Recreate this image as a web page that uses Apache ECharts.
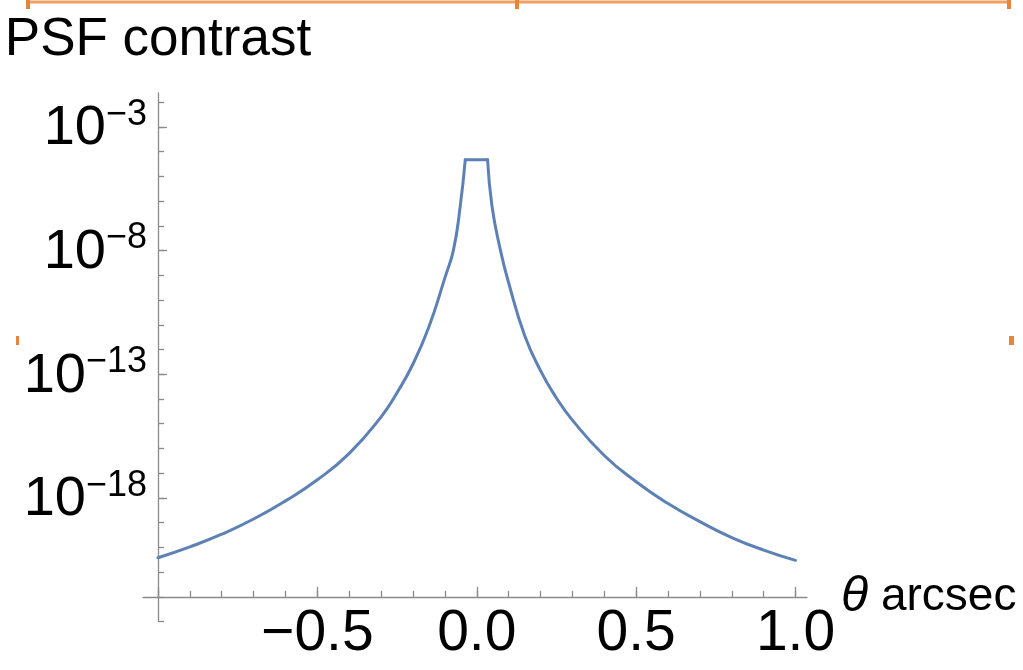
<!DOCTYPE html>
<html>
<head>
<meta charset="utf-8">
<style>
html,body{margin:0;padding:0;background:#fff;}
#chart{width:1023px;height:670px;}
</style>
<script src="https://cdn.jsdelivr.net/npm/echarts@6/dist/echarts.min.js"></script>
</head>
<body>
<div id="chart"></div>
<script>
// Data
const thetaArcsec = [-1.0,-0.9,-0.8,-0.7,-0.6,-0.5,-0.4,-0.3,-0.25,-0.2,-0.15,-0.1,-0.073,-0.052,-0.036,
                     0.034,0.048,0.074,0.1,0.15,0.2,0.25,0.3,0.4,0.5,0.6,0.7,0.8,0.9,1.0];
const psfContrast = [3.8e-21,1.05e-20,3.4e-20,1.4e-19,7.6e-19,5.4e-18,6.3e-17,1.9e-15,1.8e-14,2.6e-13,8.3e-12,7.9e-10,1.07e-8,6.0e-7,4.7e-5,
                     4.7e-5,6.0e-7,1.07e-8,5e-10,3.8e-12,1.4e-13,1.1e-14,1.4e-15,5.2e-17,4.5e-18,5.9e-19,1.1e-19,2.5e-20,7.8e-21,3e-21];
const xMajorTicks = [-1.0,-0.5,0.0,0.5,1.0];
const xLabelTicks = [-0.5,0.0,0.5,1.0];
const xMinorTicks = [-1.0,-0.9,-0.8,-0.7,-0.6,-0.5,-0.4,-0.3,-0.2,-0.1,0.0,0.1,0.2,0.3,0.4,0.5,0.6,0.7,0.8,0.9,1.0];
const yMajorTicks = [1e-3,1e-8,1e-13,1e-18];
const yMinorTicks = [1e-23,1e-22,1e-21,1e-20,1e-19,1e-18,1e-17,1e-16,1e-15,1e-14,1e-13,1e-12,1e-11,1e-10,1e-9,1e-8,1e-7,1e-6,1e-5,1e-4,1e-3,1e-2];

const FONT = '"Liberation Sans", Arial, sans-serif';
const AXIS_COLOR = '#8a8a8a';
const LINE_COLOR = '#5e81b5';
const X_MIN = -1.047, X_MAX = 1.036;
const Y_MIN = 1e-23, Y_MAX = 0.02344;
const GRID = {left: 143, top: 93, width: 664, height: 528.6};
const perDecade = GRID.height / (Math.log10(Y_MAX) - Math.log10(Y_MIN));
const xOff = -perDecade;            // x axis crosses at 1e-22
const yOff = -(-1 - X_MIN) / (X_MAX - X_MIN) * GRID.width; // y axis at x = -1

const data = thetaArcsec.map((x, i) => [x, psfContrast[i]]);
const plateauStart = 14, plateauEnd = 15;

const fmtX = v => (v < 0 ? '\u2212' : '') + Math.abs(v).toFixed(1);
const fmtY = v => '{b|10}{s|\u2212' + Math.abs(Math.round(Math.log10(v))) + '}';

const lineSeries = (d, smooth) => ({
  type: 'line', xAxisIndex: 0, yAxisIndex: 0, data: d,
  showSymbol: false, smooth: smooth,
  lineStyle: {color: LINE_COLOR, width: 3, cap: 'round', join: 'round'}
});

const chart = echarts.init(document.getElementById('chart'), null, {renderer: 'canvas'});
chart.setOption({
  animation: false,
  backgroundColor: '#ffffff',
  grid: Object.assign({containLabel: false, outerBoundsMode: 'none'}, GRID),
  xAxis: [{
    type: 'value', min: X_MIN, max: X_MAX, position: 'bottom', offset: xOff,
    axisLine: {show: true, onZero: false, lineStyle: {color: AXIS_COLOR, width: 1.3}},
    axisTick: {show: true, inside: true, length: 10, customValues: xMajorTicks, lineStyle: {color: AXIS_COLOR, width: 1.3}},
    axisLabel: {show: true, customValues: xLabelTicks, formatter: fmtX, margin: 9,
      fontFamily: FONT, fontSize: 57, color: '#000'},
    splitLine: {show: false},
    name: '{t|\u03b8}{a| arcsec}', nameLocation: 'end', nameGap: 10,
    nameTextStyle: {rich: {
      t: {fontFamily: FONT, fontStyle: 'italic', fontSize: 50, color: '#000'},
      a: {fontFamily: FONT, fontSize: 46, color: '#000'}
    }}
  }, {
    type: 'value', min: X_MIN, max: X_MAX, position: 'bottom', offset: xOff,
    axisLine: {show: false, onZero: false},
    axisTick: {show: true, inside: true, length: 6, customValues: xMinorTicks, lineStyle: {color: AXIS_COLOR, width: 1.3}},
    axisLabel: {show: false},
    splitLine: {show: false}
  }],
  yAxis: [{
    type: 'log', logBase: 10, min: Y_MIN, max: Y_MAX, position: 'left', offset: yOff,
    axisLine: {show: true, onZero: false, lineStyle: {color: AXIS_COLOR, width: 1.3}},
    axisTick: {show: true, inside: true, length: 9, customValues: yMajorTicks, lineStyle: {color: AXIS_COLOR, width: 1.3}},
    axisLabel: {show: true, customValues: yMajorTicks, formatter: fmtY, margin: 11,
      rich: {
        b: {fontFamily: FONT, fontSize: 56, color: '#000', verticalAlign: 'bottom'},
        s: {fontFamily: FONT, fontSize: 36, color: '#000', verticalAlign: 'bottom', padding: [0, 0, 24, 0]}
      }},
    splitLine: {show: false},
    name: 'PSF contrast', nameLocation: 'end', nameGap: 26,
    nameTextStyle: {fontFamily: FONT, fontSize: 53, color: '#000', align: 'center'}
  }, {
    type: 'log', logBase: 10, min: Y_MIN, max: Y_MAX, position: 'left', offset: yOff,
    axisLine: {show: false, onZero: false},
    axisTick: {show: true, inside: true, length: 6, customValues: yMinorTicks, lineStyle: {color: AXIS_COLOR, width: 1.3}},
    axisLabel: {show: false},
    splitLine: {show: false}
  }],
  series: [
    lineSeries(data.slice(0, plateauStart + 1), 0.5),
    lineSeries(data.slice(plateauStart, plateauEnd + 1), false),
    lineSeries(data.slice(plateauEnd), 0.5)
  ],
  graphic: [
    {type: 'line', shape: {x1: 28, y1: 2, x2: 1010, y2: 2}, style: {stroke: '#f0a060', lineWidth: 3}},
    {type: 'rect', shape: {x: 26, y: 0, width: 4, height: 9}, style: {fill: '#e8843a'}},
    {type: 'rect', shape: {x: 515, y: 0, width: 4, height: 9}, style: {fill: '#e8843a'}},
    {type: 'rect', shape: {x: 1007, y: 0, width: 4, height: 9}, style: {fill: '#e8843a'}},
    {type: 'rect', shape: {x: 16, y: 336, width: 3, height: 9}, style: {fill: '#e8843a'}},
    {type: 'rect', shape: {x: 1009, y: 336, width: 5, height: 9}, style: {fill: '#e8843a'}}
  ]
});
</script>
</body>
</html>
